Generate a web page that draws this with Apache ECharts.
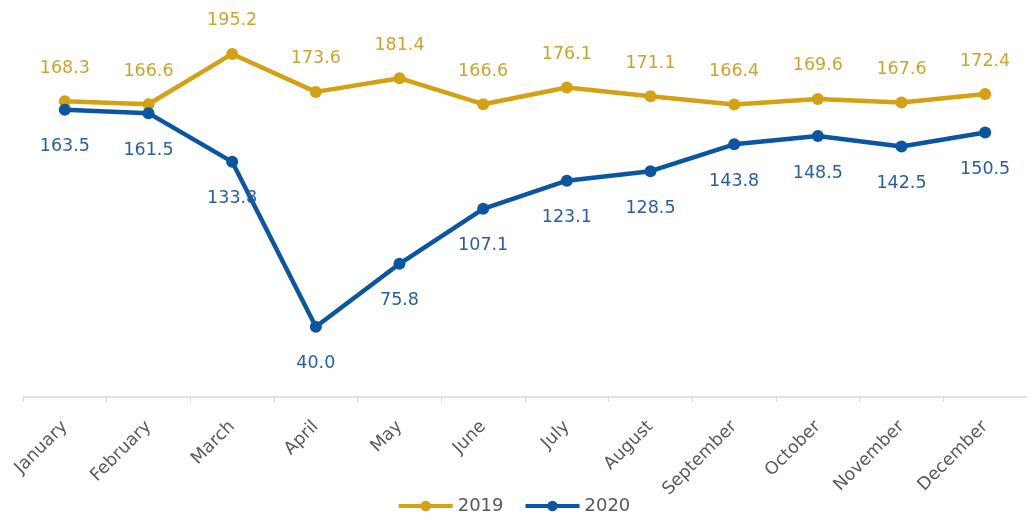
<!DOCTYPE html>
<html>
<head>
<meta charset="utf-8">
<script src="https://cdn.jsdelivr.net/npm/echarts@6/dist/echarts.min.js"></script>
<style>
  html, body { margin: 0; padding: 0; background: #ffffff; }
  #chart { width: 1027px; height: 517px; }
</style>
</head>
<body>
<div id="chart"></div>
<script>
// Monthly values for the two years
const months = ['January', 'February', 'March', 'April', 'May', 'June',
                'July', 'August', 'September', 'October', 'November', 'December'];
const values2019 = [168.3, 166.6, 195.2, 173.6, 181.4, 166.6, 176.1, 171.1, 166.4, 169.6, 167.6, 172.4];
const values2020 = [163.5, 161.5, 133.8, 40.0, 75.8, 107.1, 123.1, 128.5, 143.8, 148.5, 142.5, 150.5];

const FONT = 'DejaVu Sans';
const GOLD = '#D4A112';
const GOLD_TEXT = '#C9A52E';
const BLUE = '#0B56A3';
const BLUE_TEXT = '#285F9E';

const chart = echarts.init(document.getElementById('chart'), null, { renderer: 'canvas' });

function lineSeries(name, data, color, textColor, pos, dist) {
  return {
    name: name,
    type: 'line',
    data: data,
    symbol: 'circle',
    symbolSize: 12,
    lineStyle: { width: 4.5, color: color },
    itemStyle: { color: color },
    label: {
      show: true,
      position: pos,
      distance: dist,
      color: textColor,
      fontFamily: FONT,
      fontSize: 17.5,
      formatter: p => p.value.toFixed(1)
    },
    emphasis: { disabled: true },
    z: name === '2020' ? 3 : 2
  };
}

chart.setOption({
  animation: false,
  backgroundColor: '#ffffff',
  grid: { left: 23, right: 0, top: 45.5, bottom: 120, containLabel: false },
  xAxis: {
    type: 'category',
    data: months,
    boundaryGap: true,
    axisLine: { lineStyle: { color: '#d9d9d9', width: 1.5 } },
    axisTick: { show: true, length: 5, lineStyle: { color: '#d9d9d9' } },
    axisLabel: {
      rotate: 45,
      margin: 27,
      interval: 0,
      color: '#595959',
      fontFamily: FONT,
      fontSize: 17.5
    }
  },
  yAxis: {
    type: 'value',
    min: 0,
    max: 200,
    show: false,
    splitLine: { show: false }
  },
  legend: {
    data: ['2019', '2020'],
    top: 492,
    left: 'center',
    itemWidth: 54,
    itemHeight: 13,
    itemGap: 20,
    lineStyle: { width: 4 },
    textStyle: { color: '#595959', fontFamily: FONT, fontSize: 18 }
  },
  series: [
    lineSeries('2019', values2019, GOLD, GOLD_TEXT, 'top', 18),
    lineSeries('2020', values2020, BLUE, BLUE_TEXT, 'bottom', 22)
  ]
});
</script>
</body>
</html>
